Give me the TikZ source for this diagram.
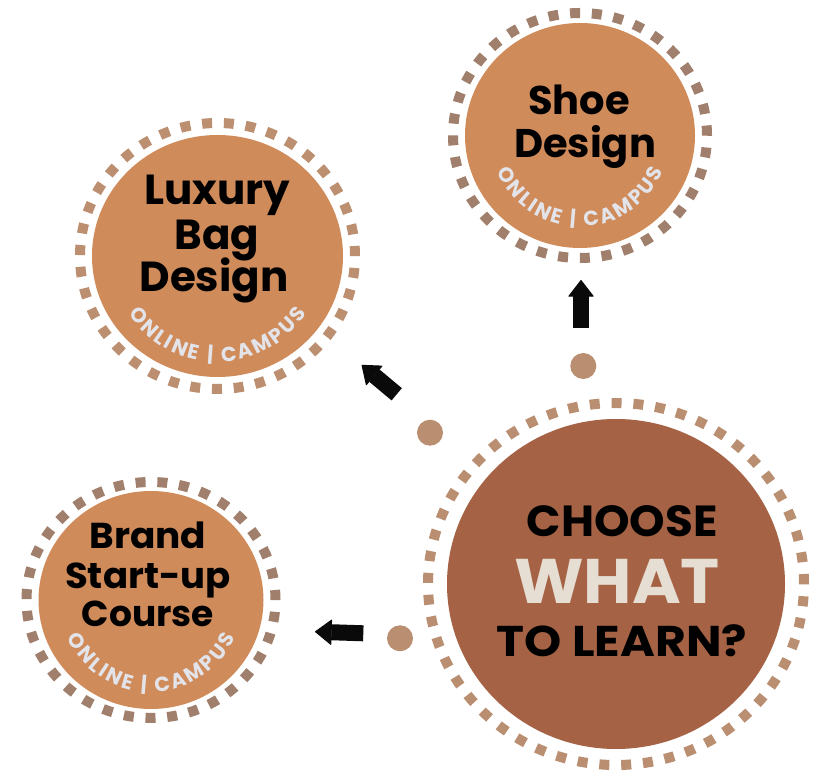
\documentclass[tikz,border=0pt]{standalone}
\usepackage{fontspec}
\setmainfont{Poppins}
\usetikzlibrary{arrows.meta,decorations.text}
\definecolor{bigfill}{HTML}{A56244}
\definecolor{smallfill}{HTML}{D08B5B}
\definecolor{bigring}{HTML}{BA8F71}
\definecolor{luxring}{HTML}{BC8F70}
\definecolor{greyring}{HTML}{A0806D}
\definecolor{dotcol}{HTML}{BA8F71}
\definecolor{whatcol}{HTML}{E6DDD3}
\definecolor{tagcol}{HTML}{E3E4EA}
\definecolor{arrowblack}{HTML}{0A0A0A}
\newcommand\onlcampfont{\fontsize{20.5}{24}\selectfont\bfseries\color{tagcol}}
\begin{document}
\begin{tikzpicture}[x=1pt,y=1pt,
  title/.style={anchor=base, inner sep=0pt, font=\bfseries, text=black},
  ring/.style={line width=10pt},
  dot/.style={circle, fill=dotcol, inner sep=0pt, minimum size=26pt},
  arr/.style={line width=16pt, draw=arrowblack, -{Triangle[width=26pt,length=17pt,line width'=1pt,round]}},
  tag/.style={decorate, decoration={text along path, text format delimiters={[}{]},
    text={[\onlcampfont]O{\kern2.4pt}N{\kern2.4pt}L{\kern2.4pt}I{\kern2.4pt}N{\kern2.4pt}E{\kern2.4pt} {\kern2.4pt}|{\kern2.4pt} {\kern2.4pt}C{\kern2.4pt}A{\kern2.4pt}M{\kern2.4pt}P{\kern2.4pt}U{\kern2.4pt}S},
    text align=center}}
]
\useasboundingbox (0,0) rectangle (819,771);
\fill[white] (0,0) rectangle (819,771);

% centres
\coordinate (cBig) at (616,187);
\coordinate (cShoe) at (580,635.5);
\coordinate (cLux) at (217.5,515);
\coordinate (cBrand) at (151,171);

% big circle
\fill[bigfill] (cBig) ellipse [x radius=169pt, y radius=165pt];
\draw[ring, bigring, dash pattern=on 10pt off 11.87pt] (cBig) ellipse [x radius=188pt, y radius=181pt];

% shoe
\fill[smallfill] (cShoe) ellipse [x radius=115pt, y radius=112.5pt];
\draw[ring, greyring, dash pattern=on 10pt off 11.77pt] (cShoe) ellipse [x radius=127pt, y radius=122.5pt];

% luxury
\fill[smallfill] (cLux) ellipse [x radius=125.5pt, y radius=121pt];
\draw[ring, luxring, dash pattern=on 10pt off 11.79pt] (cLux) ellipse [x radius=137.5pt, y radius=133pt];

% brand
\fill[smallfill] (cBrand) ellipse [x radius=112.5pt, y radius=109pt];
\draw[ring, greyring, dash pattern=on 10pt off 11.77pt] (cBrand) ellipse [x radius=124.5pt, y radius=118pt];

% big texts
\node[title, font=\fontsize{43.5}{50}\selectfont\bfseries, xscale=1.04] (tChoose) at (622,234.3) {CHOOSE};
\node[title, font=\fontsize{63}{70}\selectfont\bfseries, text=whatcol, xscale=1.05] (tWhat) at (617,167.7) {WHAT};
\node[title, font=\fontsize{43}{50}\selectfont\bfseries, xscale=1.1] (tLearn) at (622,114.3) {TO LEARN?};

% shoe texts
\node[title, font=\fontsize{40}{46}\selectfont\bfseries] (tShoe1) at (579,656) {Shoe};
\node[title, font=\fontsize{40}{46}\selectfont\bfseries] (tShoe2) at (585,613) {Design};

% luxury texts
\node[title, font=\fontsize{42}{48}\selectfont\bfseries] (tLux1) at (217,566) {Luxury};
\node[title, font=\fontsize{42}{48}\selectfont\bfseries] (tLux2) at (217,521) {Bag};
\node[title, font=\fontsize{42}{48}\selectfont\bfseries] (tLux3) at (214,479) {Design};

% brand texts
\node[title, font=\fontsize{36}{40}\selectfont\bfseries, xscale=1.04] (tBr1) at (148,222.7) {Brand};
\node[title, font=\fontsize{36}{40}\selectfont\bfseries, xscale=1.03] (tBr2) at (148,182) {Start-up};
\node[title, font=\fontsize{36}{40}\selectfont\bfseries] (tBr3) at (148,144.3) {Course};

% curved tags
\path[tag] ([xshift=-91pt]cShoe) arc[start angle=180, end angle=360, radius=91pt];
\path[tag] ([xshift=-106pt]cLux) arc[start angle=180, end angle=360, radius=106pt];
\path[tag] ([xshift=-92pt]cBrand) arc[start angle=180, end angle=360, radius=92pt];

% dots
\node[dot] (dShoe) at (583.3,405) {};
\node[dot] (dLux) at (430,338.3) {};
\node[dot] (dBrand) at (400,132.7) {};

% arrows
\coordinate (aShoeS) at (581,443);
\coordinate (aShoeE) at (581,491);
\coordinate (aLuxS) at (396.7,376.7);
\coordinate (aLuxE) at (361.7,406);
\coordinate (aBrS) at (363.3,137.7);
\coordinate (aBrE) at (315,139.3);
\draw[arr] (aShoeS) -- (aShoeE);
\draw[arr] (aLuxS) -- (aLuxE);
\draw[arr] (aBrS) -- (aBrE);
\end{tikzpicture}
\end{document}
